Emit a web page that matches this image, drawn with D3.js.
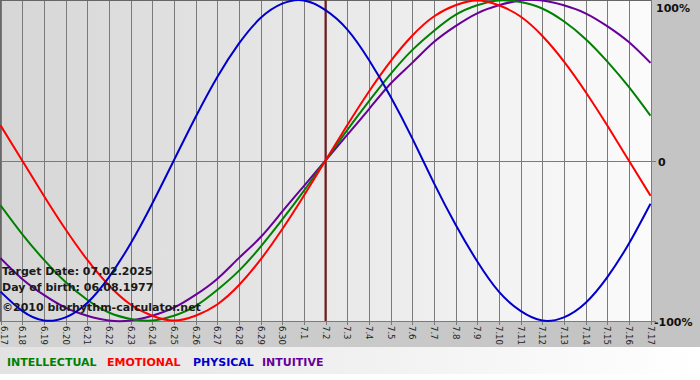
<!DOCTYPE html>
<html><head><meta charset="utf-8">
<script src="https://cdn.jsdelivr.net/npm/d3@7"></script>
<style>html,body{margin:0;padding:0;background:#fff;}svg{display:block;}</style>
</head><body>
<svg id="c" width="700" height="380"></svg>
<script>
const dates = ["6.17","6.18","6.19","6.20","6.21","6.22","6.23","6.24","6.25","6.26","6.27","6.28","6.29","6.30","7.1","7.2","7.3","7.4","7.5","7.6","7.7","7.8","7.9","7.10","7.11","7.12","7.13","7.14","7.15","7.16","7.17"];
const physical = [-82,-94,-100,-98,-89,-73,-52,-27,0,27,52,73,89,98,100,94,82,63,40,14,-14,-40,-63,-82,-94,-100,-98,-89,-73,-52,-27];
const emotional = [22,0,-22,-43,-62,-78,-90,-97,-100,-97,-90,-78,-62,-43,-22,0,22,43,62,78,90,97,100,97,90,78,62,43,22,0,-22];
const intellectual = [-28,-46,-62,-76,-87,-95,-99,-100,-97,-91,-81,-69,-54,-37,-19,0,19,37,54,69,81,91,97,100,99,95,87,76,62,46,28];
const intuitive = [-61,-74,-84,-92,-97,-100,-100,-97,-92,-84,-74,-61,-48,-32,-16,0,16,32,48,61,74,84,92,97,100,100,97,92,84,74,61];
const targetDate = "7.2";
const yTicks = [{v:100,t:"100%"},{v:0,t:"0"},{v:-100,t:"-100%"}];
const legend = [{name:"INTELLECTUAL",color:"#008000"},{name:"EMOTIONAL",color:"#ff0000"},{name:"PHYSICAL",color:"#0000cc"},{name:"INTUITIVE",color:"#660099"}];
const infoLines = ["Target Date: 07.02.2025","Day of birth: 06.08.1977","\u00a92010 biorhythm-calculator.net"];

const svg = d3.select("#c");
const W = 700, H = 380, PL = 0, PR = 651, PT = 0, PB = 321;
const x = d3.scalePoint().domain(dates).range([PL+0.5, PR-0.5]);
const y = d3.scaleLinear().domain([-100,100]).range([PB-0.5, PT+0.5]);

const defs = svg.append("defs");
const g1 = defs.append("linearGradient").attr("id","plotbg").attr("x1","0").attr("x2","1").attr("y1","0").attr("y2","0");
g1.append("stop").attr("offset","0").attr("stop-color","#d6d6d6");
g1.append("stop").attr("offset","1").attr("stop-color","#fbfbfb");
const g2 = defs.append("linearGradient").attr("id","legbg").attr("x1","0").attr("x2","1").attr("y1","0").attr("y2","0");
g2.append("stop").attr("offset","0").attr("stop-color","#e2e2e2");
g2.append("stop").attr("offset","1").attr("stop-color","#ffffff");
const g3 = defs.append("linearGradient").attr("id","axbg").attr("x1","0").attr("x2","1").attr("y1","0").attr("y2","0");
g3.append("stop").attr("offset","0").attr("stop-color","#d4d4d4");
g3.append("stop").attr("offset","1").attr("stop-color","#c2c2c2");

svg.append("rect").attr("x",0).attr("y",0).attr("width",W).attr("height",H).attr("fill","#fff");
svg.append("rect").attr("x",0).attr("y",0).attr("width",W).attr("height",347).attr("fill","#c4c4c4");
svg.append("rect").attr("x",0).attr("y",PB).attr("width",PR).attr("height",26).attr("fill","url(#axbg)");
svg.append("rect").attr("x",0).attr("y",347).attr("width",W).attr("height",27).attr("fill","url(#legbg)");
svg.append("rect").attr("x",PL).attr("y",PT).attr("width",PR-PL).attr("height",PB-PT).attr("fill","url(#plotbg)");

// vertical grid
svg.append("g").selectAll("line").data(dates).join("line")
  .attr("x1",d=>Math.round(x(d))+0.5).attr("x2",d=>Math.round(x(d))+0.5)
  .attr("y1",PT).attr("y2",PB+4).attr("stroke","#7a7a7a").attr("stroke-width",1);
// zero line
svg.append("line").attr("x1",PL).attr("x2",PR+5).attr("y1",Math.round(y(0))+0.5).attr("y2",Math.round(y(0))+0.5).attr("stroke","#7a7a7a");
// borders
svg.append("line").attr("x1",0).attr("x2",PR).attr("y1",0.5).attr("y2",0.5).attr("stroke","#666");
svg.append("line").attr("x1",0.5).attr("x2",0.5).attr("y1",0).attr("y2",PB).attr("stroke","#666");
svg.append("line").attr("x1",PL).attr("x2",PR+5).attr("y1",PB+0.5).attr("y2",PB+0.5).attr("stroke","#7a7a7a");

// x tick labels
svg.append("g").selectAll("text").data(dates).join("text")
  .attr("transform",d=>`translate(${Math.max(1, Math.round(x(d))-3)},${PB+5}) rotate(90)`)
  .attr("font-family","DejaVu Sans, Verdana, sans-serif").attr("font-size","8.5px").attr("fill","#222")
  .text(d=>d);

// target date line
svg.append("line").attr("x1",x(targetDate)).attr("x2",x(targetDate)).attr("y1",PT).attr("y2",PB)
  .attr("stroke","#7a1a1a").attr("stroke-width",2);

// y labels
svg.append("g").selectAll("text").data(yTicks).join("text")
  .attr("x",d=>d.v===0?658:(d.v>0?656:654)).attr("y",d=>y(d.v)+(d.v>0?11:(d.v===0?5:5)))
  .attr("font-family","DejaVu Sans, Verdana, sans-serif").attr("font-weight","bold").attr("font-size","11px").attr("fill","#111")
  .text(d=>d.t);

// curves
const line = d3.line().x((d,i)=>x(dates[i])).y(d=>y(d)).curve(d3.curveNatural);
const series = [
  {data:intuitive,color:"#660099"},
  {data:intellectual,color:"#008000"},
  {data:emotional,color:"#ff0000"},
  {data:physical,color:"#0000cc"}
];
const clip = defs.append("clipPath").attr("id","pc");
clip.append("rect").attr("x",PL).attr("y",PT-2).attr("width",PR-PL).attr("height",PB-PT+4);
svg.append("g").attr("clip-path","url(#pc)").selectAll("path").data(series).join("path")
  .attr("d",d=>line(d.data)).attr("fill","none").attr("stroke",d=>d.color).attr("stroke-width",2);

// info text
svg.append("g").selectAll("text").data(infoLines).join("text")
  .attr("x",2).attr("y",(d,i)=>[275,291,311][i])
  .attr("font-family","DejaVu Sans, Verdana, sans-serif").attr("font-weight","bold").attr("font-size","11px").attr("fill","#1a1a1a")
  .text(d=>d);

// legend
const lx = [7,107,193,262];
svg.append("g").selectAll("text").data(legend).join("text")
  .attr("x",(d,i)=>lx[i]).attr("y",366)
  .attr("font-family","DejaVu Sans, Verdana, sans-serif").attr("font-weight","bold").attr("font-size","11px")
  .attr("fill",d=>d.color).text(d=>d.name);
</script>
</body></html>
